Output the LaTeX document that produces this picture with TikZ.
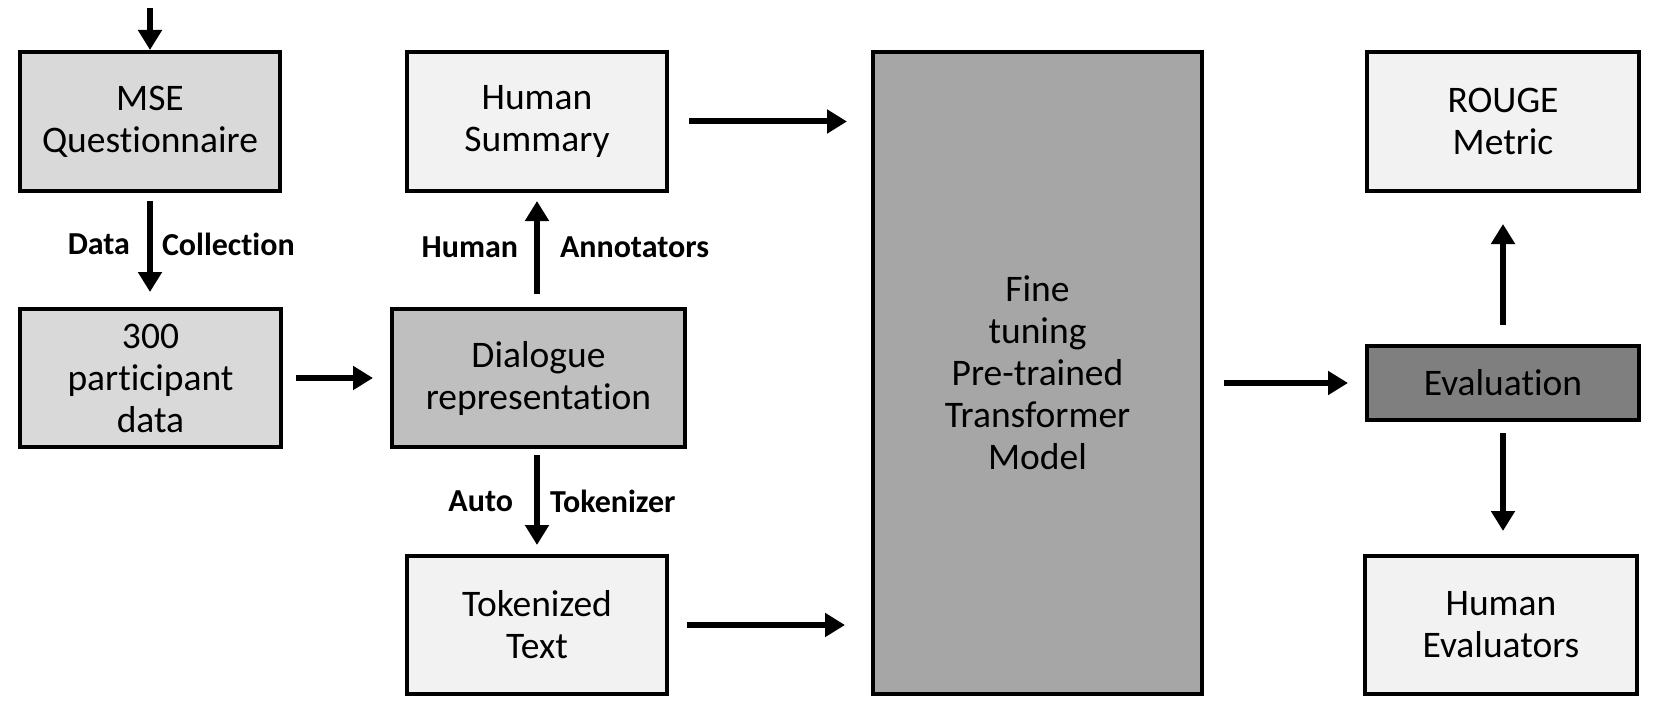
\documentclass[tikz,border=0pt]{standalone}
\usepackage{fontspec}
\setmainfont{Carlito}[Ligatures=NoCommon]
\usetikzlibrary{arrows.meta,calc}
\definecolor{gA}{HTML}{D9D9D9}
\definecolor{gB}{HTML}{BFBFBF}
\definecolor{gC}{HTML}{F2F2F2}
\definecolor{gD}{HTML}{A6A6A6}
\definecolor{gE}{HTML}{7F7F7F}
\begin{document}
\begin{tikzpicture}[x=1pt,y=-1pt,
  box/.style={draw=black, line width=4pt, align=center, inner sep=0pt,
    font=\fontsize{37.5}{42}\selectfont},
  arr/.style={line width=6pt, -{Triangle[length=20pt,width=23pt]}},
  lab/.style={inner sep=0pt, font=\fontsize{32}{36}\selectfont\bfseries}]
\useasboundingbox (0,0) rectangle (1660,706);
\node[box, fill=gA, minimum width=260pt, minimum height=139pt] (mse) at (150,121.5) {MSE\\Questionnaire};
\node[box, fill=gA, minimum width=261pt, minimum height=138pt] (p300) at (150.5,378) {300\\participant\\data};
\node[box, fill=gB, minimum width=293pt, minimum height=138pt] (dlg) at (538.5,378) {Dialogue\\representation};
\node[box, fill=gC, minimum width=260pt, minimum height=139pt] (hs) at (537,121.5) {Human\\Summary};
\node[box, fill=gC, minimum width=260pt, minimum height=138pt] (tok) at (537,625) {Tokenized\\Text};
\node[box, fill=gD, minimum width=329pt, minimum height=642pt] (big) at (1037.5,373) {Fine\\tuning\\Pre-trained\\Transformer\\Model};
\node[box, fill=gC, minimum width=272pt, minimum height=139pt] (rouge) at (1503,121.5) {ROUGE\\Metric};
\node[box, fill=gE, minimum width=272pt, minimum height=74pt] (eval) at (1503,383) {Evaluation};
\node[box, fill=gC, minimum width=272pt, minimum height=138pt] (he) at (1501,625) {Human\\Evaluators};
\coordinate (top) at (149,8);
\draw[arr] (mse.north |- top) -- (mse.north);
\draw[arr, shorten <=8pt, shorten >=15pt] (mse.south) -- (mse.south |- p300.north)
  node[lab, midway, left=17pt, yshift=6pt] {Data} node[lab, midway, right=9pt, yshift=6pt] {Collection};
\draw[arr, shorten <=13pt, shorten >=17pt] (p300.east) -- (p300.east -| dlg.west);
\draw[arr, shorten <=13pt, shorten >=8pt] (hs.south |- dlg.north) -- (hs.south)
  node[lab, midway, left=16pt, yshift=3pt] {Human} node[lab, midway, right=20pt, yshift=3pt] {Annotators};
\draw[arr, shorten <=6pt, shorten >=9pt] (tok.north |- dlg.south) -- (tok.north)
  node[lab, midway, left=21pt] {Auto} node[lab, midway, right=10pt] {Tokenizer};
\draw[arr, shorten <=20pt, shorten >=24pt] (hs.east) -- (hs.east -| big.west);
\draw[arr, shorten <=18pt, shorten >=26pt] (tok.east) -- (tok.east -| big.west);
\draw[arr, shorten <=20pt, shorten >=17pt] (eval.west -| big.east) -- (eval.west);
\draw[arr, shorten <=19pt, shorten >=31pt] (eval.north) -- (eval.north |- rouge.south);
\draw[arr, shorten <=11pt, shorten >=23pt] (eval.south) -- (eval.south |- he.north);
\end{tikzpicture}
\end{document}
